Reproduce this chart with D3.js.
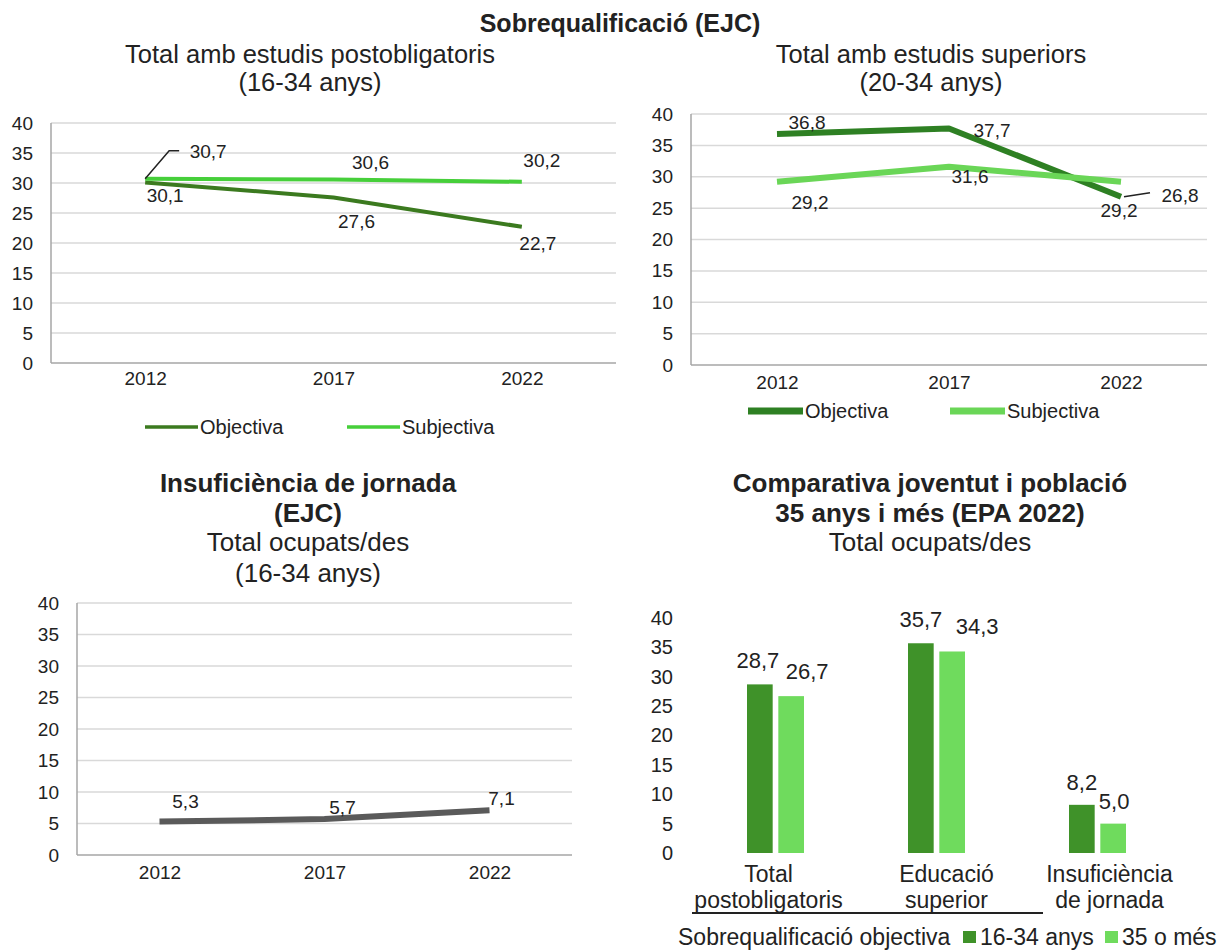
<!DOCTYPE html>
<html>
<head>
<meta charset="utf-8">
<script src="https://cdn.jsdelivr.net/npm/d3@7"></script>
<style>
  body { margin: 0; background: #fff; }
  text { font-family: "Liberation Sans", Arial, sans-serif; fill: #222; }
</style>
</head>
<body>
<div id="chart"></div>
<script>

// data
var years = ["2012", "2017", "2022"];
var yTicks = [0, 5, 10, 15, 20, 25, 30, 35, 40];
var seriesNames = ["Objectiva", "Subjectiva"];

var postObjectiva = [30.1, 27.6, 22.7];
var postSubjectiva = [30.7, 30.6, 30.2];

var supObjectiva = [36.8, 37.7, 26.8];
var supSubjectiva = [29.2, 31.6, 29.2];

var jornadaTotal = [5.3, 5.7, 7.1];

var barGroups = ["Total postobligatoris", "Educació superior", "Insuficiència de jornada"];
var barGroupLines = [["Total", "postobligatoris"], ["Educació", "superior"], ["Insuficiència", "de jornada"]];
var barSeries = ["16-34 anys", "35 o més"];
var bar1634 = [28.7, 35.7, 8.2];
var bar35 = [26.7, 34.3, 5.0];

var fmt = function(v) { return d3.format(".1f")(v).replace(".", ","); };

var W = 1223, H = 950;
var svg = d3.select("#chart").append("svg")
    .attr("width", W).attr("height", H)
    .attr("viewBox", "0 0 " + W + " " + H);

// titles
function titleLines(cx, lines) {
  lines.forEach(function(l) {
    svg.append("text")
      .attr("x", cx).attr("y", l[1])
      .attr("text-anchor", "middle")
      .style("font-size", l[2] + "px")
      .style("font-weight", l[3] ? "bold" : "normal")
      .text(l[0]);
  });
}

titleLines(620, [["Sobrequalificació (EJC)", 32, 25, true]]);
titleLines(310, [["Total amb estudis postobligatoris", 63, 25.5], ["(16-34 anys)", 91, 25.5]]);
titleLines(931, [["Total amb estudis superiors", 63, 25.5], ["(20-34 anys)", 91, 25.5]]);
titleLines(308, [["Insuficiència de jornada", 492, 26, true], ["(EJC)", 522, 26, true],
                 ["Total ocupats/des", 551, 26], ["(16-34 anys)", 582, 26]]);
titleLines(930, [["Comparativa joventut i població", 492, 26, true], ["35 anys i més (EPA 2022)", 522, 26, true],
                 ["Total ocupats/des", 551, 26]]);

// line chart helper
function lineChart(o) {
  var g = svg.append("g");
  var x = d3.scalePoint().domain(years).range([o.left, o.right]).padding(0.5);
  var y = d3.scaleLinear().domain([0, 40]).range([o.bottom, o.top]);

  // gridlines
  g.selectAll(".grid").data(yTicks.slice(1)).enter().append("line")
    .attr("x1", o.left).attr("x2", o.right)
    .attr("y1", function(d) { return y(d); }).attr("y2", function(d) { return y(d); })
    .attr("stroke", "#d9d9d9").attr("stroke-width", 1.5);

  // y axis
  var ya = g.append("g").attr("transform", "translate(" + o.left + ",0)")
    .call(d3.axisLeft(y).tickValues(yTicks).tickSize(0).tickPadding(18));
  ya.select(".domain").remove();
  ya.selectAll("text").style("font-size", "19px").style("font-family", "Liberation Sans, Arial, sans-serif").attr("fill", "#333");

  // x axis
  var xa = g.append("g").attr("transform", "translate(0," + o.bottom + ")")
    .call(d3.axisBottom(x).tickSize(0).tickPadding(o.xPad));
  xa.select(".domain").remove();
  xa.selectAll("text").style("font-size", "19px").style("font-family", "Liberation Sans, Arial, sans-serif").attr("fill", "#333");

  g.append("line").attr("x1", o.left).attr("x2", o.left).attr("y1", o.top).attr("y2", o.bottom)
    .attr("stroke", "#a6a6a6").attr("stroke-width", 1.5);
  g.append("line").attr("x1", o.left).attr("x2", o.right).attr("y1", o.bottom).attr("y2", o.bottom)
    .attr("stroke", "#a6a6a6").attr("stroke-width", 1.5);

  var line = d3.line()
    .x(function(d, i) { return x(years[i]); })
    .y(function(d) { return y(d); });

  o.series.forEach(function(s) {
    g.append("path").datum(s.values)
      .attr("d", line).attr("fill", "none")
      .attr("stroke", s.color).attr("stroke-width", s.width)
      .attr("stroke-linejoin", "round");
  });

  o.series.forEach(function(s) {
    g.selectAll(null).data(s.values).enter().append("text")
      .attr("x", function(d, i) { return x(years[i]) + s.offsets[i][0]; })
      .attr("y", function(d, i) { return y(d) + s.offsets[i][1]; })
      .attr("dy", "0.35em")
      .attr("text-anchor", "middle")
      .style("font-size", "19px")
      .text(function(d) { return fmt(d); });
    if (s.leaders) {
      s.leaders.forEach(function(l) {
        var px = x(years[l.i]), py = y(s.values[l.i]);
        g.append("path")
          .attr("d", d3.line()(l.pts.map(function(p) { return [px + p[0], py + p[1]]; })))
          .attr("fill", "none").attr("stroke", "#222").attr("stroke-width", 1.5);
      });
    }
  });

  // legend
  if (o.legend) {
    o.series.forEach(function(s) {
      var lx = o.legend[s.idx][0], ly = o.legend[s.idx][1];
      g.append("line").attr("x1", lx).attr("x2", lx + o.legendLen).attr("y1", ly).attr("y2", ly)
        .attr("stroke", s.color).attr("stroke-width", o.legendWidth);
      g.append("text").attr("x", lx + o.legendLen + 2).attr("y", ly).attr("dy", "0.35em")
        .style("font-size", "20px").text(seriesNames[s.idx]);
    });
  }
}

lineChart({
  left: 51, right: 616, top: 123, bottom: 363, xPad: 9,
  legend: [[145, 427], [347, 427]], legendLen: 53, legendWidth: 3.5,
  series: [
    { idx: 0, values: postObjectiva, color: "#3b7a1f", width: 4,
      offsets: [[20, 13], [23, 24], [16, 17]] },
    { idx: 1, values: postSubjectiva, color: "#46cf3a", width: 4,
      offsets: [[63, -27], [37, -17], [20, -21]],
      leaders: [{ i: 0, pts: [[0, 0], [24, -28], [34, -28]] }] }
  ]
});

lineChart({
  left: 691, right: 1207, top: 114, bottom: 365, xPad: 11,
  legend: [[748, 411], [950, 411]], legendLen: 55, legendWidth: 7,
  series: [
    { idx: 0, values: supObjectiva, color: "#2e8023", width: 6,
      offsets: [[30, -12], [43, 2], [59, -1]],
      leaders: [{ i: 2, pts: [[3, 0], [29, -4]] }] },
    { idx: 1, values: supSubjectiva, color: "#6ad657", width: 6,
      offsets: [[33, 21], [21, 10], [-2, 29]] }
  ]
});

lineChart({
  left: 77, right: 572, top: 603, bottom: 855, xPad: 11,
  series: [
    { idx: 0, values: jornadaTotal, color: "#5a5a5a", width: 6,
      offsets: [[26, -20], [18, -12], [12, -12]] }
  ]
});

// grouped bars
(function() {
  var g = svg.append("g");
  var y = d3.scaleLinear().domain([0, 40]).range([853, 618]);
  var x = d3.scalePoint().domain(barGroups).range([775.5, 1097.5]);
  var xs = d3.scaleBand().domain(barSeries).range([-28.5, 28.5]).paddingInner(0.18);
  var colors = ["#3f9229", "#6fdb5d"];
  var valueSets = [bar1634, bar35];
  var labelOffsets = [[[-2, -24], [0, -24], [0, -23]], [[16, -25], [25, -25], [1, -22]]];
  var catOffsets = [-7, 10, 12];

  var ya = g.append("g").attr("transform", "translate(691,0)")
    .call(d3.axisLeft(y).tickValues(yTicks).tickSize(0).tickPadding(18));
  ya.select(".domain").remove();
  ya.selectAll("text").style("font-size", "20px").style("font-family", "Liberation Sans, Arial, sans-serif").attr("fill", "#333");

  barSeries.forEach(function(s, si) {
    g.selectAll(null).data(valueSets[si]).enter().append("rect")
      .attr("x", function(d, i) { return x(barGroups[i]) + xs(s); })
      .attr("width", xs.bandwidth())
      .attr("y", function(d) { return y(d); })
      .attr("height", function(d) { return y(0) - y(d); })
      .attr("fill", colors[si]);
    g.selectAll(null).data(valueSets[si]).enter().append("text")
      .attr("x", function(d, i) { return x(barGroups[i]) + xs(s) + xs.bandwidth() / 2 + labelOffsets[si][i][0]; })
      .attr("y", function(d, i) { return y(d) + labelOffsets[si][i][1]; })
      .attr("dy", "0.35em").attr("text-anchor", "middle")
      .style("font-size", "22px")
      .text(function(d) { return fmt(d); });
  });

  // category labels
  barGroupLines.forEach(function(lines, i) {
    lines.forEach(function(t, j) {
      g.append("text")
        .attr("x", x(barGroups[i]) + catOffsets[i]).attr("y", 882 + j * 26)
        .attr("text-anchor", "middle").style("font-size", "23px").text(t);
    });
  });

  g.append("line").attr("x1", 692).attr("x2", 1043).attr("y1", 913).attr("y2", 913)
    .attr("stroke", "#222").attr("stroke-width", 2);

  // legend
  var ly = 937;
  g.append("text").attr("x", 678).attr("y", ly).attr("dy", "0.35em")
    .style("font-size", "23px").text("Sobrequalificació objectiva");
  var legX = [963, 1105];
  barSeries.forEach(function(s, si) {
    g.append("rect").attr("x", legX[si]).attr("y", ly - 6).attr("width", 13).attr("height", 12)
      .attr("fill", colors[si]);
    g.append("text").attr("x", legX[si] + 17).attr("y", ly).attr("dy", "0.35em")
      .style("font-size", "23px").text(s);
  });
})();

</script>
</body>
</html>
